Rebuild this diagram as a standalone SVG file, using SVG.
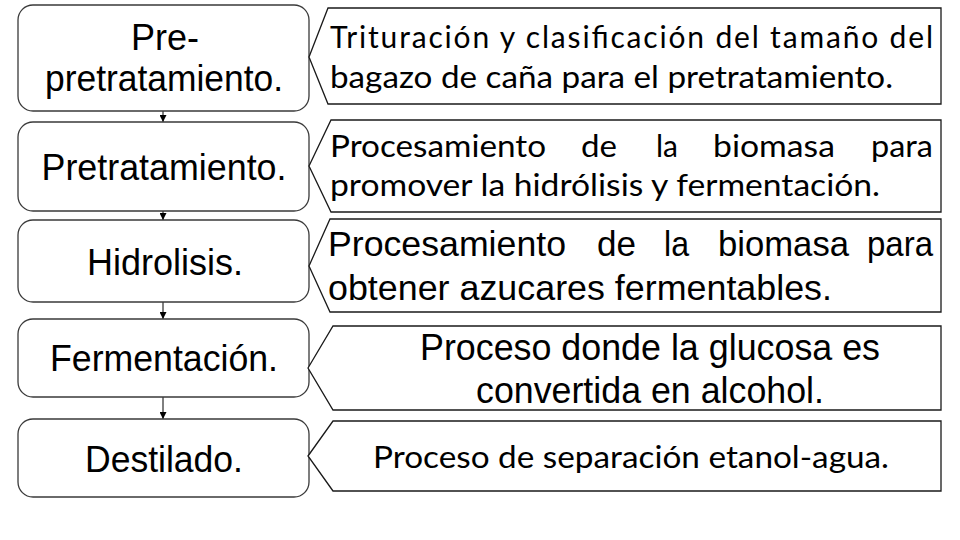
<svg xmlns="http://www.w3.org/2000/svg" width="960" height="540" viewBox="0 0 960 540">
<defs>
<marker id="ah" viewBox="0 0 10 10" refX="10" refY="5" markerWidth="7" markerHeight="7" markerUnits="userSpaceOnUse" orient="auto">
<path d="M0,0 L10,5 L0,10 z" fill="#000"/>
</marker>
<style>
.box{fill:#fff;stroke:#3a3a3a;stroke-width:1.3}
.co{fill:#fff;stroke:#1a1a1a;stroke-width:1.3}
.lt{font-family:"Liberation Sans",Arial,sans-serif;font-size:36px;fill:#000;text-anchor:middle}
.ar{font-family:"Liberation Sans",Arial,sans-serif;font-size:35px;fill:#000}
.cb{font-family:Lato,"Open Sans",sans-serif;font-size:30px;fill:#000}
.cn{stroke:#000;stroke-width:1;fill:none}
</style>
</defs>
<rect width="960" height="540" fill="#fff"/>
<g id="connectors">
<line class="cn" x1="163" y1="111" x2="163" y2="122" marker-end="url(#ah)"/>
<line class="cn" x1="163" y1="211" x2="163" y2="220" marker-end="url(#ah)"/>
<line class="cn" x1="163" y1="302" x2="163" y2="319" marker-end="url(#ah)"/>
<line class="cn" x1="163" y1="397" x2="163" y2="419" marker-end="url(#ah)"/>
</g>
<g id="n1">
<rect class="box" x="18" y="5" width="291" height="106" rx="15"/>
<text class="lt" x="165" y="50">Pre-</text>
<text class="lt" x="164" y="91" textLength="238" lengthAdjust="spacingAndGlyphs">pretratamiento.</text>
</g>
<g id="n2">
<rect class="box" x="18" y="122" width="291" height="89" rx="15"/>
<text class="lt" x="164" y="180" textLength="245" lengthAdjust="spacingAndGlyphs">Pretratamiento.</text>
</g>
<g id="n3">
<rect class="box" x="18" y="220" width="291" height="82" rx="15"/>
<text class="lt" x="165" y="275" textLength="156" lengthAdjust="spacingAndGlyphs">Hidrolisis.</text>
</g>
<g id="n4">
<rect class="box" x="18" y="319" width="291" height="78" rx="15"/>
<text class="lt" x="164" y="371" textLength="228" lengthAdjust="spacingAndGlyphs">Fermentación.</text>
</g>
<g id="n5">
<rect class="box" x="18" y="419" width="291" height="78" rx="15"/>
<text class="lt" x="164" y="472" textLength="158" lengthAdjust="spacingAndGlyphs">Destilado.</text>
</g>
<g id="c1">
<polygon class="co" points="309,57 328,8 941,8 941,104 328,104"/>
<text class="cb" x="330" y="48" textLength="603" lengthAdjust="spacing">Trituración y clasificación del tamaño del</text>
<text class="cb" x="330" y="88" textLength="563" lengthAdjust="spacingAndGlyphs">bagazo de caña para el pretratamiento.</text>
</g>
<g id="c2">
<polygon class="co" points="309,166 331,120 941,120 941,212 331,212"/>
<text class="cb" y="157"><tspan x="330" textLength="216" lengthAdjust="spacingAndGlyphs">Procesamiento</tspan><tspan x="581" textLength="36" lengthAdjust="spacingAndGlyphs">de</tspan><tspan x="656" textLength="22" lengthAdjust="spacingAndGlyphs">la</tspan><tspan x="713" textLength="122" lengthAdjust="spacingAndGlyphs">biomasa</tspan><tspan x="871" textLength="62" lengthAdjust="spacingAndGlyphs">para</tspan></text>
<text class="cb" x="330" y="196" textLength="550" lengthAdjust="spacingAndGlyphs">promover la hidrólisis y fermentación.</text>
</g>
<g id="c3">
<polygon class="co" points="309,266 330,219 941,219 941,312 330,312"/>
<text class="ar" y="256"><tspan x="328" textLength="238" lengthAdjust="spacingAndGlyphs">Procesamiento</tspan><tspan x="597" textLength="39" lengthAdjust="spacingAndGlyphs">de</tspan><tspan x="664" textLength="25" lengthAdjust="spacingAndGlyphs">la</tspan><tspan x="718" textLength="131" lengthAdjust="spacingAndGlyphs">biomasa</tspan><tspan x="867" textLength="66" lengthAdjust="spacingAndGlyphs">para</tspan></text>
<text class="ar" x="328" y="300" textLength="504" lengthAdjust="spacingAndGlyphs">obtener azucares fermentables.</text>
</g>
<g id="c4">
<polygon class="co" points="308,368 333,326 941,326 941,410 333,410"/>
<text class="lt" x="650" y="360" textLength="460" lengthAdjust="spacingAndGlyphs">Proceso donde la glucosa es</text>
<text class="lt" x="650" y="403" textLength="348" lengthAdjust="spacingAndGlyphs">convertida en alcohol.</text>
</g>
<g id="c5">
<polygon class="co" points="308,456 333,421 941,421 941,491 333,491"/>
<text class="cb" x="373" y="468" textLength="516" lengthAdjust="spacingAndGlyphs">Proceso de separación etanol-agua.</text>
</g>
</svg>
